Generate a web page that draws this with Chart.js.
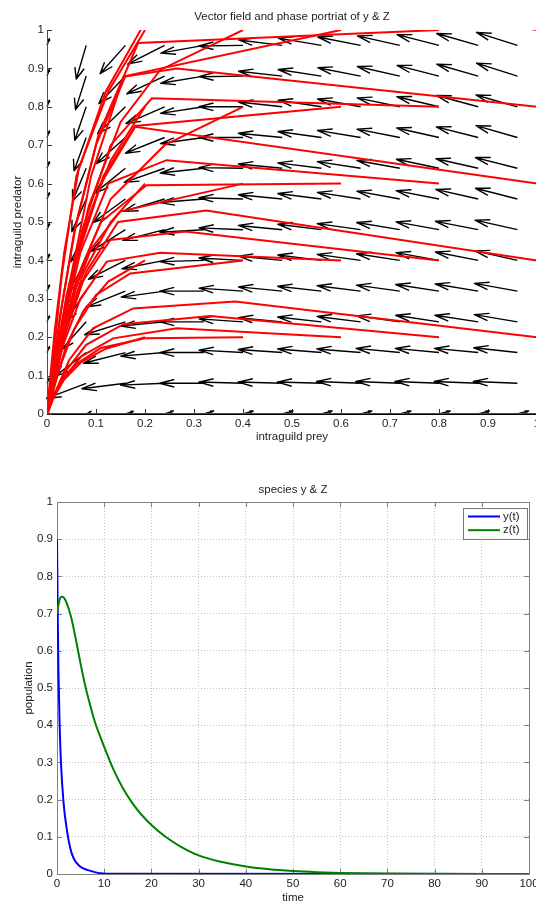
<!DOCTYPE html>
<html>
<head>
<meta charset="utf-8">
<script src="https://cdn.jsdelivr.net/npm/chart.js@4.4.0/dist/chart.umd.min.js"></script>
<style>
html, body { margin: 0; padding: 0; background: #fff; width: 536px; height: 902px; overflow: hidden; }
canvas { position: absolute; left: 0; }
#phaseChart { top: 0; }
#timeChart { top: 455px; }
</style>
</head>
<body>
<canvas id="phaseChart" width="560" height="445"></canvas>
<canvas id="timeChart" width="560" height="452"></canvas>
<script>
// ---------- phase portrait (top) ----------
var gridX = [0, 0.08, 0.16, 0.24, 0.32, 0.40, 0.48, 0.56, 0.64, 0.72, 0.80, 0.88, 0.96];
var gridZ = [0, 0.08, 0.16, 0.24, 0.32, 0.40, 0.48, 0.56, 0.64, 0.72, 0.80, 0.88, 0.96];
var arrowLen = 0.09;
// field direction in degrees, rows z = 0.08 .. 0.96, cols x = 0.08 .. 0.96
var arrowAngle = [
  [206, 189, 183, 180, 178, 178, 178, 177, 177, 177, 177, 177],
  [224, 198, 186, 180, 176, 175, 174, 174, 173, 173, 173, 172],
  [235, 202, 187, 180, 175, 173, 172, 171, 170, 169, 169, 168],
  [242, 207, 190, 180, 175, 173, 172, 171, 170, 169, 168, 167],
  [246, 213, 194, 182, 176, 173, 171, 170, 169, 167, 166, 164],
  [249, 219, 198, 184, 177, 173, 171, 170, 168, 167, 166, 164],
  [251, 223, 201, 186, 178, 173, 171, 169, 167, 166, 164, 162],
  [252, 226, 204, 188, 179, 173, 171, 169, 167, 165, 164, 162],
  [254, 229, 207, 190, 180, 173, 170, 168, 166, 164, 162, 160],
  [255, 231, 209, 191, 180, 172, 169, 167, 165, 163, 161, 160],
  [256, 233, 211, 192, 181, 172, 169, 166, 164, 162, 160, 158],
  [257, 235, 213, 193, 181, 171, 168, 166, 164, 162, 160, 158]
];
// short vectors on the z = 0 row (x = 0 .. 0.96)
var floorU = [0.004, 0.010, 0.016, 0.018, 0.020, 0.021, 0.022, 0.022, 0.023, 0.023, 0.023, 0.023, 0.023];
var floorV = [0.003, 0.007, 0.007, 0.008, 0.008, 0.008, 0.008, 0.008, 0.008, 0.008, 0.008, 0.008, 0.008];
// short vectors on the x = 0 column (z = 0.08 .. 0.96)
var wallU = [0.005, 0.005, 0.005, 0.005, 0.005, 0.005, 0.005, 0.005, 0.005, 0.005, 0.005, 0.005];
var wallV = [0.014, 0.015, 0.015, 0.016, 0.016, 0.016, 0.016, 0.017, 0.017, 0.017, 0.017, 0.017];

// solution curves (prey x, predator z)
var trajX = [
  [0, 0],
  [0, 1],
  [0.2, 0.12, 0.07, 0.035, 0.012, 0.002, 0],
  [0.4, 0.2, 0.11, 0.06, 0.03, 0.01, 0.002, 0],
  [0.6, 0.265, 0.135, 0.07, 0.035, 0.012, 0.002, 0],
  [0.8, 0.333, 0.156, 0.08, 0.04, 0.015, 0.002, 0],
  [1.0, 0.384, 0.176, 0.094, 0.045, 0.018, 0.003, 0],
  [0.2, 0.125, 0.075, 0.04, 0.018, 0.005, 0],
  [0.4, 0.17, 0.1, 0.055, 0.026, 0.008, 0.001, 0],
  [0.6, 0.231, 0.122, 0.068, 0.033, 0.012, 0.002, 0],
  [0.8, 0.282, 0.129, 0.07, 0.035, 0.013, 0.002, 0],
  [1.0, 0.325, 0.145, 0.08, 0.04, 0.015, 0.002, 0],
  [0.2, 0.13, 0.075, 0.042, 0.019, 0.006, 0],
  [0.4, 0.149, 0.09, 0.05, 0.024, 0.008, 0.001, 0],
  [0.6, 0.203, 0.11, 0.06, 0.03, 0.01, 0.002, 0],
  [0.8, 0.244, 0.125, 0.068, 0.033, 0.012, 0.002, 0],
  [1.0, 0.18, 0.11, 0.06, 0.03, 0.01, 0.002, 0],
  [0.2, 0.13, 0.075, 0.04, 0.018, 0.005, 0],
  [0.4, 0.24, 0.13, 0.07, 0.033, 0.011, 0.002, 0],
  [0.6, 0.18, 0.115, 0.063, 0.03, 0.01, 0.002, 0],
  [0.8, 0.214, 0.13, 0.072, 0.035, 0.012, 0.002, 0],
  [1.0, 0.265, 0.156, 0.09, 0.046, 0.018, 0.003, 0],
  [0.2, 0.125, 0.065, 0.035, 0.016, 0.004, 0],
  [0.4, 0.231, 0.15, 0.085, 0.042, 0.015, 0.003, 0],
  [0.6, 0.16, 0.1, 0.055, 0.026, 0.009, 0.001, 0],
  [0.8, 0.186, 0.105, 0.06, 0.03, 0.011, 0.002, 0],
  [1.0, 0.5, 0.2, 0.12, 0.06, 0.03, 0.011, 0.002, 0]
];
var trajZ = [
  [1, 0],
  [0, 0],
  [0.2, 0.17, 0.135, 0.09, 0.04, 0.008, 0],
  [0.2, 0.197, 0.172, 0.13, 0.085, 0.035, 0.006, 0],
  [0.2, 0.223, 0.197, 0.15, 0.095, 0.04, 0.006, 0],
  [0.2, 0.255, 0.234, 0.18, 0.115, 0.05, 0.007, 0],
  [0.2, 0.293, 0.275, 0.223, 0.14, 0.06, 0.008, 0],
  [0.4, 0.345, 0.27, 0.18, 0.09, 0.02, 0],
  [0.4, 0.366, 0.31, 0.22, 0.12, 0.04, 0.005, 0],
  [0.4, 0.42, 0.397, 0.3, 0.18, 0.07, 0.01, 0],
  [0.4, 0.475, 0.453, 0.34, 0.2, 0.08, 0.01, 0],
  [0.4, 0.53, 0.5, 0.37, 0.22, 0.09, 0.012, 0],
  [0.6, 0.5, 0.37, 0.24, 0.12, 0.03, 0],
  [0.6, 0.527, 0.43, 0.3, 0.16, 0.05, 0.006, 0],
  [0.6, 0.596, 0.5, 0.35, 0.19, 0.06, 0.008, 0],
  [0.6, 0.661, 0.6, 0.42, 0.23, 0.08, 0.01, 0],
  [0.6, 0.748, 0.6, 0.4, 0.21, 0.07, 0.01, 0],
  [0.8, 0.66, 0.48, 0.31, 0.15, 0.04, 0],
  [0.8, 0.7, 0.56, 0.38, 0.2, 0.065, 0.008, 0],
  [0.8, 0.75, 0.62, 0.42, 0.22, 0.07, 0.009, 0],
  [0.8, 0.822, 0.7, 0.48, 0.26, 0.08, 0.01, 0],
  [0.8, 0.9, 0.878, 0.62, 0.34, 0.12, 0.015, 0],
  [1.0, 0.84, 0.64, 0.42, 0.22, 0.06, 0],
  [1.0, 0.896, 0.76, 0.54, 0.3, 0.1, 0.012, 0],
  [1.0, 0.88, 0.7, 0.47, 0.25, 0.08, 0.01, 0],
  [1.0, 0.966, 0.727, 0.5, 0.28, 0.1, 0.012, 0],
  [1.0, 1.1, 1.02, 0.84, 0.62, 0.36, 0.12, 0.014, 0]
];

// ---------- time series (bottom) ----------
var timeY = [0, 0.15, 0.3, 0.55, 0.85, 1.4, 2.1, 2.8, 3.5, 4.2, 5, 6.4, 8, 9.2, 12, 100];
var popY = [0.9, 0.7, 0.55, 0.405, 0.297, 0.19, 0.118, 0.07, 0.043, 0.029, 0.019, 0.011, 0.005, 0.002, 0.0005, 0];
var timeZ = [0, 0.5, 1, 1.5, 2, 3, 4, 5, 6, 7, 8, 10, 12, 14, 16, 18, 20, 23, 26, 30, 35, 40, 45, 50, 55, 60, 70, 80, 90, 100];
var popZ = [0.70, 0.735, 0.745, 0.742, 0.73, 0.69, 0.63, 0.565, 0.505, 0.455, 0.41, 0.342, 0.28, 0.23, 0.19, 0.158, 0.132, 0.1, 0.075, 0.05, 0.032, 0.02, 0.0125, 0.008, 0.005, 0.003, 0.0012, 0.0005, 0.0002, 0.0001];

var FONT = '"Liberation Sans", Arial, sans-serif';
Chart.defaults.font.family = FONT;
Chart.defaults.font.size = 11.5;
Chart.defaults.color = '#222';

function oneDecimal(v) { return String(Math.round(v * 10) / 10); }

// title centred over the plotting area
var plotTitle = {
  id: 'plotTitle',
  afterDraw: function(chart, args, opts) {
    var a = chart.chartArea, ctx = chart.ctx;
    ctx.save();
    ctx.font = '11.5px ' + FONT;
    ctx.fillStyle = '#222';
    ctx.textAlign = 'center';
    ctx.textBaseline = 'middle';
    ctx.fillText(opts.text, (a.left + a.right) / 2, a.top - opts.offset);
    ctx.restore();
  }
};

// inward tick marks, optional box
var frame = {
  id: 'frame',
  beforeDatasetsDraw: function(chart, args, opts) {
    var a = chart.chartArea, ctx = chart.ctx;
    var sx = chart.scales.x, sy = chart.scales.y, len = opts.tick;
    ctx.save();
    ctx.strokeStyle = opts.color;
    ctx.lineWidth = 1;
    ctx.beginPath();
    sx.ticks.forEach(function(t) {
      var p = Math.round(sx.getPixelForValue(t.value)) + 0.5;
      ctx.moveTo(p, a.bottom); ctx.lineTo(p, a.bottom - len);
      if (opts.box) { ctx.moveTo(p, a.top); ctx.lineTo(p, a.top + len); }
    });
    sy.ticks.forEach(function(t) {
      var p = Math.round(sy.getPixelForValue(t.value)) + 0.5;
      ctx.moveTo(a.left, p); ctx.lineTo(a.left + len, p);
      if (opts.box) { ctx.moveTo(a.right, p); ctx.lineTo(a.right - len, p); }
    });
    if (opts.box) {
      ctx.rect(Math.round(a.left) + 0.5, Math.round(a.top) + 0.5, Math.round(a.right - a.left), Math.round(a.bottom - a.top));
    }
    ctx.stroke();
    ctx.restore();
  }
};

// quiver arrows (heads sized like MATLAB's quiver: 0.33 of the vector)
var quiver = {
  id: 'quiver',
  beforeDatasetsDraw: function(chart) {
    var sx = chart.scales.x, sy = chart.scales.y, ctx = chart.ctx;
    function px(v) { return sx.getPixelForValue(v); }
    function py(v) { return sy.getPixelForValue(v); }
    ctx.save();
    ctx.strokeStyle = '#000';
    ctx.lineWidth = 1.4;
    ctx.lineJoin = 'round';
    ctx.beginPath();
    for (var j = 0; j < gridZ.length; j++) {
      for (var i = 0; i < gridX.length; i++) {
        var x = gridX[i], y = gridZ[j], u, v;
        if (j === 0) { u = floorU[i]; v = floorV[i]; }
        else if (i === 0) { u = wallU[j - 1]; v = wallV[j - 1]; }
        else {
          var ang = arrowAngle[j - 1][i - 1] * Math.PI / 180;
          u = arrowLen * Math.cos(ang); v = arrowLen * Math.sin(ang);
        }
        var tx = x + u, ty = y + v;
        ctx.moveTo(px(x), py(y)); ctx.lineTo(px(tx), py(ty));
        ctx.moveTo(px(tx - 0.33 * (u + 0.33 * v)), py(ty - 0.33 * (v - 0.33 * u)));
        ctx.lineTo(px(tx), py(ty));
        ctx.lineTo(px(tx - 0.33 * (u - 0.33 * v)), py(ty - 0.33 * (v + 0.33 * u)));
      }
    }
    ctx.stroke();
    ctx.restore();
  }
};

// boxed legend inside the top-right corner
var boxLegend = {
  id: 'boxLegend',
  afterDatasetsDraw: function(chart, args, opts) {
    var a = chart.chartArea, ctx = chart.ctx;
    var left = Math.round(a.right - opts.right - opts.width), top = Math.round(a.top + opts.top);
    ctx.save();
    ctx.fillStyle = '#fff';
    ctx.fillRect(left, top, opts.width, opts.height);
    ctx.strokeStyle = '#777';
    ctx.lineWidth = 1;
    ctx.strokeRect(left + 0.5, top + 0.5, opts.width, opts.height);
    ctx.font = '11.5px ' + FONT;
    ctx.textBaseline = 'middle';
    chart.data.datasets.forEach(function(ds, k) {
      var y = top + 8.5 + k * 13.7;
      ctx.strokeStyle = ds.borderColor;
      ctx.lineWidth = 2;
      ctx.beginPath(); ctx.moveTo(left + 5, y); ctx.lineTo(left + 37, y); ctx.stroke();
      ctx.fillStyle = '#222';
      ctx.fillText(ds.label, left + 40, y);
    });
    ctx.restore();
  }
};

var phaseSets = trajX.map(function(xs, i) {
  return {
    data: xs.map(function(x, k) { return { x: x, y: trajZ[i][k] }; }),
    showLine: true,
    borderColor: '#ff0000',
    borderWidth: 2,
    pointRadius: 0,
    tension: 0
  };
});

new Chart(document.getElementById('phaseChart'), {
  type: 'scatter',
  data: { datasets: phaseSets },
  plugins: [frame, quiver, plotTitle],
  options: {
    responsive: false,
    animation: false,
    events: [],
    layout: { padding: { top: 30, right: 23, left: 0, bottom: 0 } },
    plugins: {
      legend: { display: false },
      tooltip: { enabled: false },
      plotTitle: { text: 'Vector field and phase portriat of y & Z', offset: 13 },
      frame: { tick: 5, color: '#333', box: false }
    },
    scales: {
      x: {
        type: 'linear', min: 0, max: 1,
        ticks: { stepSize: 0.1, padding: 3, autoSkip: false, maxRotation: 0, callback: oneDecimal },
        grid: { display: false, drawTicks: false },
        border: { display: true, color: '#000' },
        title: { display: true, text: 'intraguild prey', padding: { top: 0, bottom: 1 } },
        afterFit: function(s) { s.height = 31; }
      },
      y: {
        type: 'linear', min: 0, max: 1,
        ticks: { stepSize: 0.1, padding: 3, autoSkip: false, callback: oneDecimal },
        grid: { display: false, drawTicks: false },
        border: { display: true, color: '#000' },
        title: { display: true, text: 'intraguild predator', padding: { top: 11, bottom: 0 } },
        afterFit: function(s) { s.width = 47; }
      }
    }
  }
});

new Chart(document.getElementById('timeChart'), {
  type: 'scatter',
  data: {
    datasets: [
      { label: 'y(t)', data: timeY.map(function(t, i) { return { x: t, y: popY[i] }; }),
        showLine: true, borderColor: '#0000ff', borderWidth: 2, pointRadius: 0,
        cubicInterpolationMode: 'monotone', order: 1 },
      { label: 'z(t)', data: timeZ.map(function(t, i) { return { x: t, y: popZ[i] }; }),
        showLine: true, borderColor: '#008000', borderWidth: 2, pointRadius: 0,
        cubicInterpolationMode: 'monotone', order: 0 }
    ]
  },
  plugins: [frame, boxLegend, plotTitle],
  options: {
    responsive: false,
    animation: false,
    events: [],
    layout: { padding: { top: 47, right: 31, left: 0, bottom: 0 } },
    plugins: {
      legend: { display: false },
      tooltip: { enabled: false },
      plotTitle: { text: 'species y & Z', offset: 12.5 },
      frame: { tick: 5, color: '#808080', box: true },
      boxLegend: { width: 64, height: 31, right: 2, top: 6 }
    },
    scales: {
      x: {
        type: 'linear', min: 0, max: 100,
        ticks: { stepSize: 10, padding: 2.5, autoSkip: false, maxRotation: 0 },
        grid: { display: true, drawTicks: false, color: '#c4c4c4', lineWidth: 1 },
        border: { display: false, dash: [1, 2] },
        title: { display: true, text: 'time', padding: { top: 0, bottom: 2.4 } },
        afterFit: function(s) { s.height = 33; }
      },
      y: {
        type: 'linear', min: 0, max: 1,
        ticks: { stepSize: 0.1, padding: 4, autoSkip: false, callback: oneDecimal },
        grid: { display: true, drawTicks: false, color: '#c4c4c4', lineWidth: 1 },
        border: { display: false, dash: [1, 2] },
        title: { display: true, text: 'population', padding: { top: 22, bottom: 0 } },
        afterFit: function(s) { s.width = 57; }
      }
    }
  }
});
</script>
</body>
</html>
